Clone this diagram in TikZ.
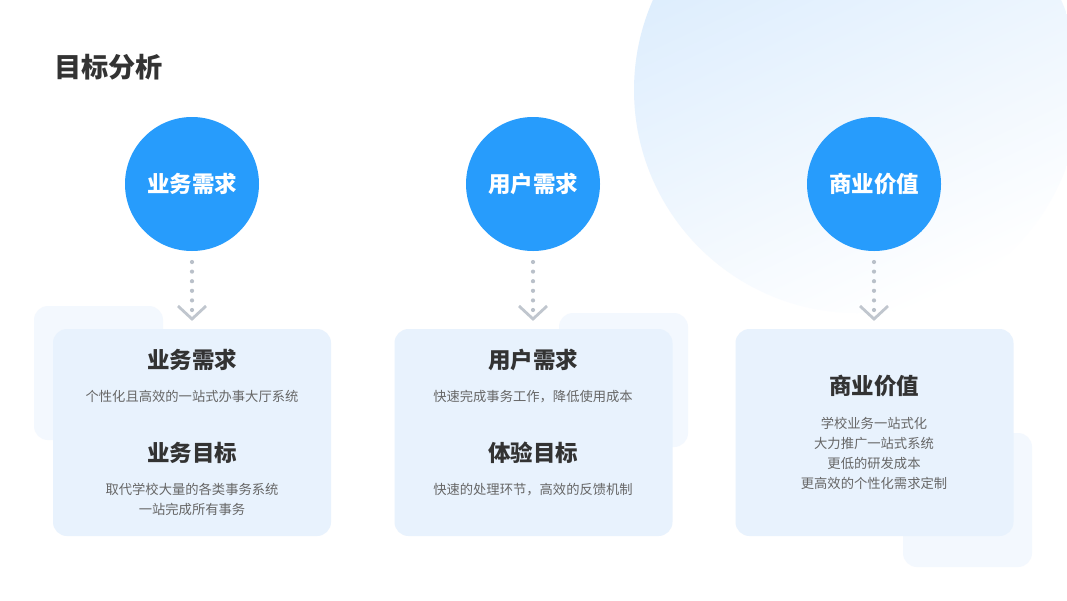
\documentclass[tikz,border=0pt]{standalone}
\usepackage{fontspec}
\setmainfont{Noto Sans CJK SC}
\newfontfamily\cjk{Noto Sans CJK SC}
\definecolor{mainblue}{HTML}{279CFC}
\definecolor{cardbg}{HTML}{E8F2FD}
\definecolor{decobg}{HTML}{F3F8FE}
\definecolor{bigcirc}{HTML}{D9EBFD}
\definecolor{dotgray}{HTML}{B9C0C9}
\definecolor{titlegray}{HTML}{333333}
\definecolor{subgray}{HTML}{666666}
\tikzset{
  topcircle/.style={circle, fill=mainblue, minimum size=134pt, inner sep=0pt, text=white, font=\cjk\bfseries\fontsize{22.5}{26}\selectfont},
  cardbox/.style={fill=cardbg, rounded corners=14pt},
  decobox/.style={fill=decobg, rounded corners=14pt},
  cardtitle/.style={text=titlegray, font=\cjk\bfseries\fontsize{22.5}{26}\selectfont, inner sep=0pt},
  cardtext/.style={text=subgray, font=\cjk\fontsize{13.3}{20}\selectfont, align=center, inner sep=0pt},
  dotline/.style={dotgray, line width=4.2pt, line cap=round, dash pattern=on 0pt off 9.6pt},
  chevron/.style={dotgray!90, line width=2.8pt}
}
\begin{document}
\begin{tikzpicture}[x=1pt,y=-1pt]
\useasboundingbox (0,0) rectangle (1067,600);
\fill[white] (0,0) rectangle (1067,600);
\begin{scope}
\clip (0,0) rectangle (1067,600);
\shade[top color=bigcirc, bottom color=white, shading angle=25] (857,90) circle (223);
\end{scope}
% title
\node[anchor=west, text=titlegray, font=\cjk\bfseries\fontsize{27.2}{30}\selectfont, inner sep=0pt] (title) at (54,67) {目标分析};
% decorations
\fill[decobox] (34,306) rectangle (163,440);
\fill[decobox] (559,313) rectangle (688,447);
\fill[decobox] (903,433) rectangle (1032,567);
% cards
\node[cardbox, minimum width=278pt, minimum height=207pt, inner sep=0pt] (card1) at (192,432.5) {};
\node[cardbox, minimum width=278pt, minimum height=207pt, inner sep=0pt] (card2) at (533.5,432.5) {};
\node[cardbox, minimum width=278pt, minimum height=207pt, inner sep=0pt] (card3) at (874.5,432.5) {};
% circles
\node[topcircle] (c1) at (192,184) {业务需求};
\node[topcircle] (c2) at (533,184) {用户需求};
\node[topcircle] (c3) at (874,184) {商业价值};
% connectors
\foreach \i/\x in {1/192,2/533,3/874}{
  \coordinate (d\i a) at (\x,262);
  \coordinate (d\i b) at (\x,311);
  \coordinate (v\i l) at (\x-14,306);
  \coordinate (v\i m) at (\x,319);
  \coordinate (v\i r) at (\x+14,306);
  \draw[dotline] (d\i a) -- (d\i b);
  \draw[chevron] (v\i l) -- (v\i m) -- (v\i r);
}
% card 1 text
\node[cardtitle] (t11) at (192,360) {业务需求};
\node[cardtext] (s11) at (192,396.5) {个性化且高效的一站式办事大厅系统};
\node[cardtitle] (t12) at (192,453) {业务目标};
\node[cardtext] (s12) at (192,499.5) {取代学校大量的各类事务系统\\一站完成所有事务};
% card 2 text
\node[cardtitle] (t21) at (533,360) {用户需求};
\node[cardtext] (s21) at (533,396.5) {快速完成事务工作，降低使用成本};
\node[cardtitle] (t22) at (533,453) {体验目标};
\node[cardtext] (s22) at (533,489.5) {快速的处理环节，高效的反馈机制};
% card 3 text
\node[cardtitle] (t31) at (874,386) {商业价值};
\node[cardtext] (s31) at (874,453.5) {学校业务一站式化\\大力推广一站式系统\\更低的研发成本\\更高效的个性化需求定制};
\end{tikzpicture}
\end{document}
